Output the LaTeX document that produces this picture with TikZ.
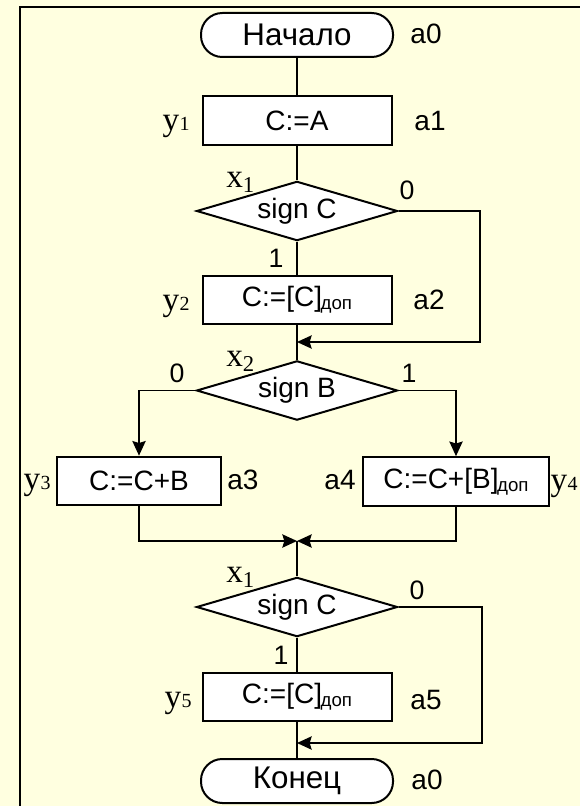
\documentclass[tikz,border=0pt]{standalone}
\usepackage{fontspec}
\setmainfont{Liberation Sans}
\newfontfamily\serifface{Liberation Serif}
\usetikzlibrary{shapes.geometric,arrows.meta}
\definecolor{paper}{RGB}{255,255,224}

% subscript "доп" for complement code
\newcommand\dop{\kern-1pt\raisebox{-2.5pt}{\fontsize{14}{14}\selectfont доп}}
% output signal y_i (digit on the baseline) and condition x_i (lowered digit)
\newcommand\ysub[1]{y\kern0.3pt{\fontsize{15}{15}\selectfont #1}}
\newcommand\xsub[1]{x\raisebox{-4pt}{\fontsize{17}{17}\selectfont #1}}

\begin{document}
\begin{tikzpicture}[x=0.75pt,y=-0.75pt,
  every node/.style={font=\fontsize{21}{21}\selectfont},
  term/.style={draw, fill=white, line width=1.5pt, rounded corners=16pt,
    minimum width=144pt, minimum height=33pt, inner sep=0pt,
    font=\fontsize{23.5}{23.5}\selectfont},
  opbox/.style={draw, fill=white, line width=1.5pt,
    minimum width=141.75pt, minimum height=36.5pt, inner sep=0pt},
  test/.style={draw, fill=white, line width=1.5pt, diamond, shape aspect=3.4,
    minimum width=150.75pt, minimum height=44.5pt, inner sep=0pt},
  flow/.style={line width=1.1pt},
  arr/.style={flow, -{Stealth[length=11pt,width=10pt,inset=1.5pt]}},
  stlabel/.style={inner sep=0pt},
  sig/.style={inner sep=0pt, font=\serifface\fontsize{25}{25}\selectfont},
  br/.style={inner sep=0pt, font=\fontsize{20}{20}\selectfont}
]
\useasboundingbox (0,0) rectangle (580,806);
\clip (0,0) rectangle (580,806);
\fill[paper] (0,0) rectangle (580,806);
\draw[line width=1.5pt] (20,7) rectangle (620,840);

% blocks
\node[term] (start) at (297,35) {Начало};
\node[opbox] (b1) at (297,120.5) {C:=A};
\node[test] (d1) at (297,211) {sign C};
\node[opbox] (b2) at (297,300) {C:=[C]\dop};
\coordinate (j1) at (297,342);
\node[test] (d2) at (297,390.5) {sign B};
\node[opbox, minimum width=123pt] (b3) at (139,481) {C:=C+B};
\node[opbox, minimum width=140pt] (b4) at (456,481.5) {C:=C+[B]\dop};
\coordinate (j2) at (297,541);
\node[test] (d3) at (297,607) {sign C};
\node[opbox] (b5) at (297,697) {C:=[C]\dop};
\coordinate (j3) at (297,743);
\node[term] (stop) at (297,781) {Конец};

% connectors
\draw[flow] (start) -- (b1);
\draw[flow] (b1) -- (d1);
\draw[flow] (d1) -- (b2);
\draw[flow] (b2) -- (d2);
\draw[arr] (d1.east) -- ++(81.5,0) |- (j1);
\draw[arr] (d2.west) -| (b3.north);
\draw[arr] (d2.east) -| (b4.north);
\draw[arr] (b3.south) |- (j2);
\draw[arr] (b4.south) |- (j2);
\draw[flow] (j2) -- (d3.north);
\draw[flow] (d3) -- (b5);
\draw[flow] (b5) -- (stop);
\draw[arr] (d3.east) -- ++(83.5,0) |- (j3);

% branch values
\node[br] at (407,190) {0};
\node[br] at (276,258) {1};
\node[br] at (177,373) {0};
\node[br] at (409,373) {1};
\node[br] at (417,590) {0};
\node[br] at (281,655) {1};

% state marks
\node[stlabel] at (426,34) {a0};
\node[stlabel] at (430,121) {a1};
\node[stlabel] at (429,300) {a2};
\node[stlabel] at (243,480) {a3};
\node[stlabel] at (340,480) {a4};
\node[stlabel] at (426,700) {a5};
\node[stlabel] at (427,780) {a0};

% output signals
\node[sig, anchor=base east] at (190,131) {\ysub{1}};
\node[sig, anchor=base east] at (190,310) {\ysub{2}};
\node[sig, anchor=base east] at (51,489) {\ysub{3}};
\node[sig, anchor=base east] at (578,490) {\ysub{4}};
\node[sig, anchor=base east] at (192,707) {\ysub{5}};

% condition variables
\node[sig, anchor=base west] at (226,187) {\xsub{1}};
\node[sig, anchor=base west] at (226,366) {\xsub{2}};
\node[sig, anchor=base west] at (226,582) {\xsub{1}};
\end{tikzpicture}
\end{document}
